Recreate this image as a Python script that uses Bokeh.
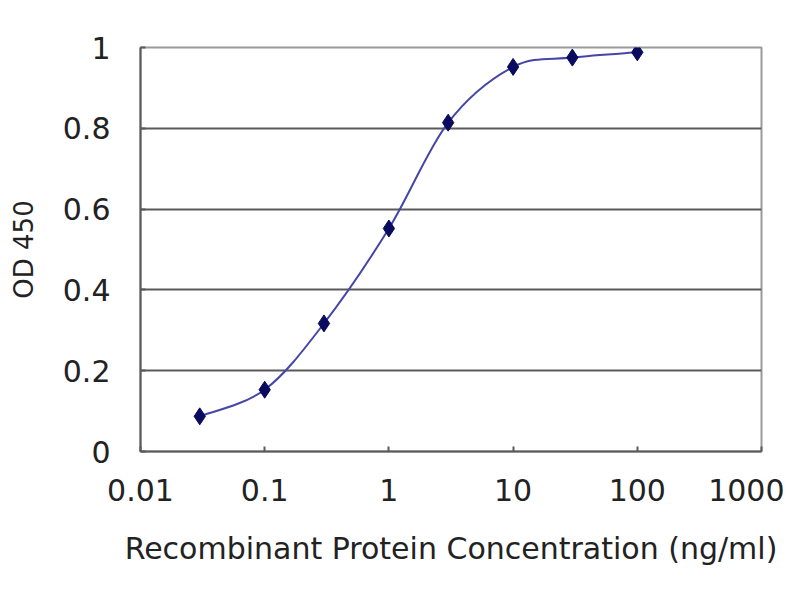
import numpy as np
from bokeh.plotting import figure
from bokeh.models import FixedTicker, CustomJSTickFormatter
from bokeh.embed import file_html
from bokeh.resources import INLINE

# standard curve, concentration in ng/ml vs OD 450
conc = [0.03, 0.1, 0.3, 1, 3, 10, 30, 100]
od450 = [0.087, 0.153, 0.317, 0.552, 0.814, 0.952, 0.975, 0.988]

x_ticks = [0.01, 0.1, 1, 10, 100, 1000]
y_ticks = [0, 0.2, 0.4, 0.6, 0.8, 1]

FONT = "DejaVu Sans"
GRID = "#5a5a5a"
TEXT = "#222222"

p = figure(width=784, height=584, x_axis_type="log", x_range=(0.01, 1000), y_range=(0, 1),
           output_backend="svg", toolbar_location=None,
           min_border_left=140, min_border_right=23, min_border_top=47, min_border_bottom=133)
p.background_fill_color = "white"
p.border_fill_color = "white"
p.outline_line_color = "#9a9a9a"
p.outline_line_width = 2

p.xgrid.visible = False
p.ygrid.ticker = FixedTicker(ticks=y_ticks)
p.ygrid.grid_line_color = GRID
p.ygrid.grid_line_width = 2

p.xaxis.ticker = FixedTicker(ticks=x_ticks, minor_ticks=[])
p.xaxis.formatter = CustomJSTickFormatter(code="return tick.toString();")
p.yaxis.ticker = FixedTicker(ticks=y_ticks, minor_ticks=[])
p.yaxis.formatter = CustomJSTickFormatter(code="return tick.toString();")

for ax in (p.xaxis, p.yaxis):
    ax.axis_line_color = GRID
    ax.axis_line_width = 2
    ax.major_tick_line_color = GRID
    ax.major_tick_line_width = 2
    ax.major_tick_in = 5
    ax.major_tick_out = 0
    ax.minor_tick_line_color = None
    ax.major_label_text_font = FONT
    ax.major_label_text_font_size = "30px"
    ax.major_label_text_color = TEXT
    ax.axis_label_text_font = FONT
    ax.axis_label_text_font_style = "normal"
    ax.axis_label_text_color = TEXT

p.xaxis.major_label_standoff = 27
p.yaxis.major_label_standoff = 30
p.xaxis.axis_label = "Recombinant Protein Concentration (ng/ml)"
p.xaxis.axis_label_text_font_size = "30px"
p.xaxis.axis_label_standoff = 27
p.yaxis.axis_label = "OD 450"
p.yaxis.axis_label_text_font_size = "26px"
p.yaxis.axis_label_standoff = 21

# smooth curve through the points: catmull-rom segments drawn as beziers in log-x space
lx = np.log10(conc)
yy = np.array(od450)
px = np.concatenate([[lx[0]], lx, [lx[-1]]])
py = np.concatenate([[yy[0]], yy, [yy[-1]]])
x0, y0, x1, y1, cx0, cy0, cx1, cy1 = [], [], [], [], [], [], [], []
for i in range(1, len(px) - 2):
    x0.append(10 ** px[i]); y0.append(py[i])
    x1.append(10 ** px[i + 1]); y1.append(py[i + 1])
    cx0.append(10 ** (px[i] + (px[i + 1] - px[i - 1]) / 6)); cy0.append(py[i] + (py[i + 1] - py[i - 1]) / 6)
    cx1.append(10 ** (px[i + 1] - (px[i + 2] - px[i]) / 6)); cy1.append(py[i + 1] - (py[i + 2] - py[i]) / 6)
p.bezier(x0=x0, y0=y0, x1=x1, y1=y1, cx0=cx0, cy0=cy0, cx1=cx1, cy1=cy1,
         line_color="#4646a6", line_width=2)

p.scatter(conc, od450, marker="diamond", size=17, fill_color="#0a0a5e", line_color="#0a0a5e")

open("out.html", "w").write(file_html(p, INLINE))
